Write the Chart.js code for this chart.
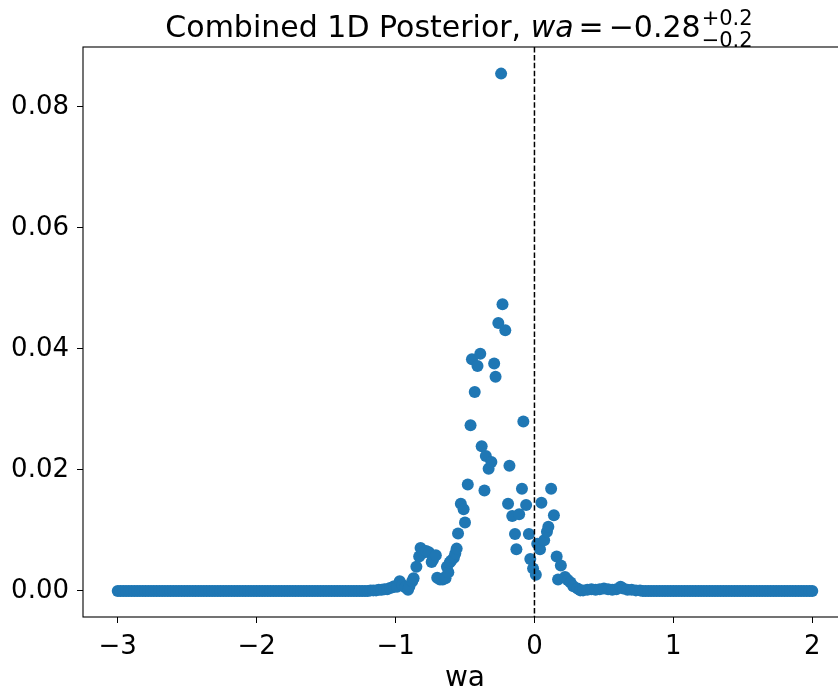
<!DOCTYPE html>
<html>
<head>
<meta charset="utf-8">
<script src="https://cdn.jsdelivr.net/npm/chart.js@4.4.1/dist/chart.umd.min.js"></script>
<style>
  html, body { margin: 0; padding: 0; background: #fff; overflow: hidden; }
  #wrap { width: 860px; height: 693px; }
</style>
</head>
<body>
<div id="wrap"><canvas id="posterior" width="860" height="693"></canvas></div>
<script>
// Combined 1D posterior of wa

// flat tails (posterior ~ 0)
const tailLeftX = [
  -3.00, -2.98, -2.96, -2.94, -2.92, -2.90, -2.88, -2.86, -2.84, -2.82,
  -2.80, -2.78, -2.76, -2.74, -2.72, -2.70, -2.68, -2.66, -2.64, -2.62,
  -2.60, -2.58, -2.56, -2.54, -2.52, -2.50, -2.48, -2.46, -2.44, -2.42,
  -2.40, -2.38, -2.36, -2.34, -2.32, -2.30, -2.28, -2.26, -2.24, -2.22,
  -2.20, -2.18, -2.16, -2.14, -2.12, -2.10, -2.08, -2.06, -2.04, -2.02,
  -2.00, -1.98, -1.96, -1.94, -1.92, -1.90, -1.88, -1.86, -1.84, -1.82,
  -1.80, -1.78, -1.76, -1.74, -1.72, -1.70, -1.68, -1.66, -1.64, -1.62,
  -1.60, -1.58, -1.56, -1.54, -1.52, -1.50, -1.48, -1.46, -1.44, -1.42,
  -1.40, -1.38, -1.36, -1.34, -1.32, -1.30, -1.28, -1.26, -1.24, -1.22
];
const tailLeftY = [
  0, 0, 0, 0, 0, 0, 0, 0, 0, 0,
  0, 0, 0, 0, 0, 0, 0, 0, 0, 0,
  0, 0, 0, 0, 0, 0, 0, 0, 0, 0,
  0, 0, 0, 0, 0, 0, 0, 0, 0, 0,
  0, 0, 0, 0, 0, 0, 0, 0, 0, 0,
  0, 0, 0, 0, 0, 0, 0, 0, 0, 0,
  0, 0, 0, 0, 0, 0, 0, 0, 0, 0,
  0, 0, 0, 0, 0, 0, 0, 0, 0, 0,
  0, 0, 0, 0, 0, 0, 0, 0, 0, 0
];

// the peak
const peakX = [
  -1.20, -1.18, -1.16, -1.14, -1.12, -1.10, -1.08, -1.06, -1.04, -1.02,
  -1.01, -0.99, -0.97, -0.95, -0.93, -0.91, -0.90, -0.88, -0.87, -0.85,
  -0.83, -0.82, -0.80, -0.78, -0.76, -0.74, -0.73, -0.71, -0.70, -0.68,
  -0.66, -0.65, -0.64, -0.63, -0.62, -0.61, -0.60, -0.58, -0.57, -0.56,
  -0.55, -0.53, -0.51, -0.50, -0.48, -0.46, -0.45, -0.43, -0.41, -0.39,
  -0.38, -0.36, -0.35, -0.33, -0.31, -0.29, -0.28, -0.26, -0.24, -0.23,
  -0.21, -0.19, -0.18, -0.16, -0.14, -0.13, -0.11, -0.09, -0.08, -0.06,
  -0.04, -0.03, -0.01, 0.01, 0.02, 0.04, 0.05, 0.07, 0.09, 0.10,
  0.12, 0.14, 0.16, 0.17, 0.19, 0.22, 0.24, 0.26, 0.28, 0.31,
  0.33, 0.35, 0.38, 0.41, 0.44, 0.47, 0.50, 0.53, 0.56, 0.59,
  0.62, 0.64, 0.67, 0.70, 0.73, 0.76, 0.78
];
const peakY = [
  0.0000, 0.0001, 0.0001, 0.0001, 0.0002, 0.0002, 0.0003, 0.0003, 0.0005, 0.0006,
  0.0008, 0.0007, 0.0016, 0.0010, 0.0006, 0.0002, 0.0008, 0.0016, 0.0021, 0.0040,
  0.0057, 0.0071, 0.0063, 0.0066, 0.0064, 0.0048, 0.0052, 0.0059, 0.0022, 0.0019,
  0.0019, 0.0022, 0.0021, 0.0040, 0.0031, 0.0047, 0.0050, 0.0055, 0.0062, 0.0070,
  0.0095, 0.0144, 0.0135, 0.0113, 0.0176, 0.0274, 0.0383, 0.0329, 0.0372, 0.0392,
  0.0239, 0.0166, 0.0223, 0.0202, 0.0213, 0.0376, 0.0354, 0.0443, 0.0855, 0.0474,
  0.0431, 0.0144, 0.0207, 0.0124, 0.0094, 0.0069, 0.0127, 0.0169, 0.0280, 0.0142,
  0.0094, 0.0053, 0.0037, 0.0027, 0.0078, 0.0069, 0.0146, 0.0084, 0.0098, 0.0106,
  0.0169, 0.0125, 0.0057, 0.0019, 0.0042, 0.0023, 0.0018, 0.0014, 0.0008, 0.0004,
  0.0001, 0.0001, 0.0002, 0.0003, 0.0002, 0.0003, 0.0004, 0.0003, 0.0002, 0.0003,
  0.0007, 0.0004, 0.0002, 0.0002, 0.0001, 0.0001, 0.0000
];

const tailRightX = [
  0.80, 0.82, 0.84, 0.86, 0.88, 0.90, 0.92, 0.94, 0.96, 0.98,
  1.00, 1.02, 1.04, 1.06, 1.08, 1.10, 1.12, 1.14, 1.16, 1.18,
  1.20, 1.22, 1.24, 1.26, 1.28, 1.30, 1.32, 1.34, 1.36, 1.38,
  1.40, 1.42, 1.44, 1.46, 1.48, 1.50, 1.52, 1.54, 1.56, 1.58,
  1.60, 1.62, 1.64, 1.66, 1.68, 1.70, 1.72, 1.74, 1.76, 1.78,
  1.80, 1.82, 1.84, 1.86, 1.88, 1.90, 1.92, 1.94, 1.96, 1.98,
  2.00
];
const tailRightY = [
  0, 0, 0, 0, 0, 0, 0, 0, 0, 0,
  0, 0, 0, 0, 0, 0, 0, 0, 0, 0,
  0, 0, 0, 0, 0, 0, 0, 0, 0, 0,
  0, 0, 0, 0, 0, 0, 0, 0, 0, 0,
  0, 0, 0, 0, 0, 0, 0, 0, 0, 0,
  0, 0, 0, 0, 0, 0, 0, 0, 0, 0,
  0
];

const xTicks = [-3, -2, -1, 0, 1, 2];
const yTicks = [0.00, 0.02, 0.04, 0.06, 0.08];
const bestFit = 0; // dashed reference line

const FONT = '"DejaVu Sans", "Liberation Sans", sans-serif';
const minus = s => s.replace('-', '\u2212');

function toPoints(xs, ys) {
  return xs.map((x, i) => ({ x: x, y: ys[i] }));
}
const allPoints = toPoints(tailLeftX, tailLeftY)
  .concat(toPoints(peakX, peakY))
  .concat(toPoints(tailRightX, tailRightY));

// dashed vertical line + full box of spines
const framePlugin = {
  id: 'frame',
  afterDatasetsDraw(chart) {
    const ctx = chart.ctx;
    const a = chart.chartArea;
    const px = chart.scales.x.getPixelForValue(bestFit);
    ctx.save();
    ctx.strokeStyle = '#000';
    ctx.lineWidth = 1.5;
    ctx.setLineDash([5.5, 2.4]);
    ctx.beginPath();
    ctx.moveTo(px, a.top);
    ctx.lineTo(px, a.bottom);
    ctx.stroke();
    ctx.restore();
  },
  afterDraw(chart) {
    const ctx = chart.ctx;
    const a = chart.chartArea;
    ctx.save();
    ctx.strokeStyle = '#000';
    ctx.lineWidth = 1.1;
    ctx.strokeRect(a.left, a.top, a.right - a.left, a.bottom - a.top);
    ctx.restore();
  }
};

// title with the little math bit: wa = -0.28 (+0.2 / -0.2)
const titlePlugin = {
  id: 'mathTitle',
  afterDraw(chart) {
    const ctx = chart.ctx;
    const a = chart.chartArea;
    const big = 30, small = 21;
    const base = 37;
    const parts = [
      { t: 'Combined 1D Posterior, ', f: big + 'px ' + FONT, gap: 0 },
      { t: 'wa', f: 'italic ' + big + 'px ' + FONT, gap: 5 },
      { t: '=', f: big + 'px ' + FONT, gap: 5 },
      { t: '\u22120.28', f: big + 'px ' + FONT, gap: 1 }
    ];
    ctx.save();
    ctx.fillStyle = '#000';
    ctx.textBaseline = 'alphabetic';
    const widths = parts.map(p => { ctx.font = p.f; return ctx.measureText(p.t).width + p.gap; });
    ctx.font = small + 'px ' + FONT;
    const supW = ctx.measureText('+0.2').width;
    const subW = ctx.measureText('\u22120.2').width;
    const total = widths.reduce((s, w) => s + w, 0) + Math.max(supW, subW);
    let x = (a.left + a.right) / 2 - total / 2 - 6;
    ctx.textAlign = 'left';
    parts.forEach((p, i) => {
      ctx.font = p.f;
      ctx.fillText(p.t, x, base);
      x += widths[i];
    });
    ctx.font = small + 'px ' + FONT;
    ctx.fillText('+0.2', x, base - 12);
    ctx.fillText('\u22120.2', x, base + 10);
    ctx.restore();
  }
};

function initChart() {
  const canvas = document.getElementById('posterior');
  const ctx = canvas.getContext('2d');

  new Chart(ctx, {
    type: 'scatter',
    data: {
      datasets: [{
        data: allPoints,
        backgroundColor: '#1f77b4',
        borderWidth: 0,
        pointRadius: 6,
        pointHoverRadius: 6
      }]
    },
    options: {
      responsive: false,
      animation: false,
      events: [],
      layout: { padding: { left: 0, top: 47, right: 13, bottom: 0 } },
      plugins: {
        legend: { display: false },
        tooltip: { enabled: false },
        title: { display: false }
      },
      scales: {
        x: {
          type: 'linear',
          min: -3.25,
          max: 2.25,
          afterBuildTicks: s => { s.ticks = xTicks.map(v => ({ value: v })); },
          afterFit: s => { s.height = 76; },
          border: { display: false },
          grid: { drawOnChartArea: false, drawTicks: true, tickLength: 6, tickColor: '#000', tickWidth: 1 },
          ticks: {
            color: '#000',
            padding: 9,
            maxRotation: 0,
            font: { family: FONT, size: 26 },
            callback: v => minus(String(v))
          },
          title: {
            display: true,
            text: 'wa',
            color: '#000',
            font: { family: FONT, size: 28 },
            padding: { top: 0, bottom: -3 }
          }
        },
        y: {
          type: 'linear',
          min: -0.0043,
          max: 0.0899,
          afterBuildTicks: s => { s.ticks = yTicks.map(v => ({ value: v })); },
          afterFit: s => { s.width = 83; },
          border: { display: false },
          grid: { drawOnChartArea: false, drawTicks: true, tickLength: 6, tickColor: '#000', tickWidth: 1 },
          ticks: {
            color: '#000',
            padding: 8,
            font: { family: FONT, size: 26 },
            callback: v => v.toFixed(2)
          }
        }
      }
    },
    plugins: [framePlugin, titlePlugin]
  });
}

document.addEventListener('DOMContentLoaded', initChart);
</script>
</body>
</html>
